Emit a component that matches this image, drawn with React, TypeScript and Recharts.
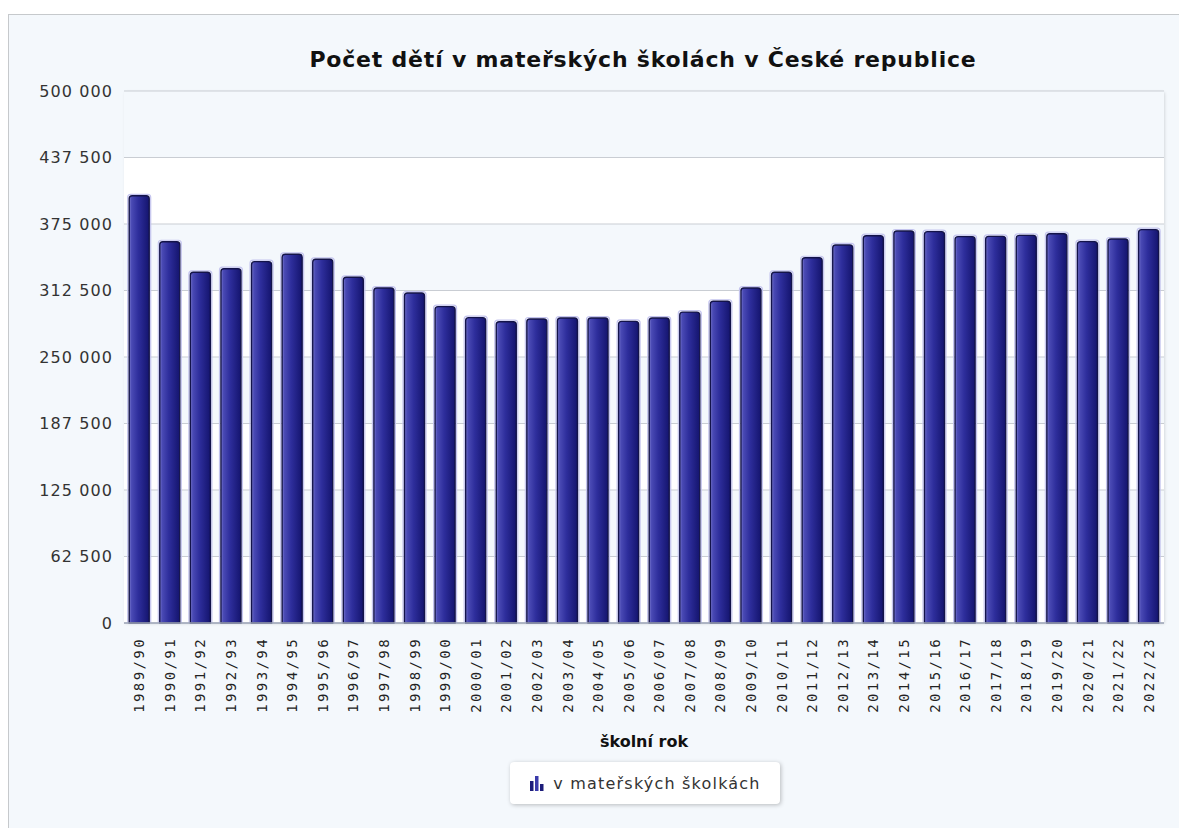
import React from "react";
import { BarChart, Bar, XAxis, YAxis, CartesianGrid } from "recharts";

const categories = [
  "1989/90", "1990/91", "1991/92", "1992/93", "1993/94", "1994/95", "1995/96",
  "1996/97", "1997/98", "1998/99", "1999/00", "2000/01", "2001/02", "2002/03",
  "2003/04", "2004/05", "2005/06", "2006/07", "2007/08", "2008/09", "2009/10",
  "2010/11", "2011/12", "2012/13", "2013/14", "2014/15", "2015/16", "2016/17",
  "2017/18", "2018/19", "2019/20", "2020/21", "2021/22", "2022/23",
];

const children = [
  401500, 358300, 329600, 333000, 339600, 346500, 341800,
  324900, 314800, 310100, 297300, 287000, 283200, 285700,
  286600, 286600, 283500, 286600, 292200, 302400, 314800,
  329600, 343300, 355300, 364000, 368400, 367800, 363100,
  363400, 364300, 365900, 358400, 360900, 369700,
];

const yTicks = [0, 62500, 125000, 187500, 250000, 312500, 375000, 437500, 500000];

const seriesName = "v mateřských školkách";
const title = "Počet dětí v mateřských školách v České republice";
const xTitle = "školní rok";

const data = categories.map((c, i) => ({ year: c, value: children[i] }));

const fmt = (v: number) =>
  String(v).replace(/\B(?=(\d{3})+(?!\d))/g, " ");

const BarShape = (props: any) => {
  const { x, y, width, height } = props;
  if (!height || height <= 0) return null;
  const r = 3;
  const path = `M${x},${y + height} L${x},${y + r} Q${x},${y} ${x + r},${y} L${x + width - r},${y} Q${x + width},${y} ${x + width},${y + r} L${x + width},${y + height} Z`;
  const o = 1.5;
  const outer = `M${x - o},${y + height} L${x - o},${y + r - o} Q${x - o},${y - o} ${x + r - o},${y - o} L${x + width - r + o},${y - o} Q${x + width + o},${y - o} ${x + width + o},${y + r - o} L${x + width + o},${y + height}`;
  return (
    <g>
      <path d={outer} fill="none" stroke="#c4c4ee" strokeWidth={1.2} />
      <path d={path} fill="url(#barGrad)" stroke="#14144a" strokeWidth={1.4} />
    </g>
  );
};

const XTick = (props: any) => {
  const { x, y, payload } = props;
  return (
    <g transform={`translate(${x},${y})`}>
      <text
        x={-6}
        y={0}
        dy={5}
        transform="rotate(-90)"
        textAnchor="end"
        fill="#222"
        fontFamily="'DejaVu Sans Mono', monospace"
        fontSize={14}
        letterSpacing={2.4}
      >
        {payload.value}
      </text>
    </g>
  );
};

export default function App() {
  return (
    <div style={{ position: "absolute", left: 0, top: 0, width: 1179, height: 828, background: "#ffffff", overflow: "hidden" }}>
      <div style={{ position: "absolute", left: 8, top: 14, width: 1200, height: 850, border: "1px solid #c6c9cc", background: "#f4f8fc" }} />
      <div
        style={{
          position: "absolute",
          left: 0,
          top: 47,
          width: 1286,
          textAlign: "center",
          fontFamily: "'DejaVu Sans', sans-serif",
          fontWeight: 700,
          fontSize: 22,
          letterSpacing: 0.8,
          color: "#111",
        }}
      >
        {title}
      </div>
      <div
        style={{
          position: "absolute",
          left: 124,
          top: 91,
          width: 1040,
          height: 532,
          background: "#ffffff",
          border: "1px solid #c3c9d1",
          borderRadius: 2,
          boxShadow: "1px 1px 3px rgba(0,0,0,0.12)",
          boxSizing: "border-box",
        }}
      />
      <div style={{ position: "absolute", left: 0, top: 0 }}>
        <BarChart
          width={1179}
          height={828}
          data={data}
          margin={{ top: 91, right: 15, bottom: 81, left: 0 }}
          barCategoryGap="17%"
        >
          <defs>
            <linearGradient id="barGrad" x1="0" y1="0" x2="1" y2="0">
              <stop offset="0%" stopColor="#7a7ad0" />
              <stop offset="12%" stopColor="#4a4ab4" />
              <stop offset="45%" stopColor="#2e2e9c" />
              <stop offset="100%" stopColor="#14146e" />
            </linearGradient>
          </defs>
          <CartesianGrid
            vertical={false}
            stroke="#c9cdd3"
            horizontalFill={["#f4f8fc", "#ffffff"]}
          />
          <XAxis
            dataKey="year"
            interval={0}
            height={124}
            tickLine={false}
            axisLine={{ stroke: "#9ea6b8", strokeWidth: 1.5 }}
            tick={<XTick />}
            label={{
              value: xTitle,
              position: "insideBottom",
              offset: 0,
              fill: "#111",
              fontFamily: "'DejaVu Sans', sans-serif",
              fontWeight: 700,
              fontSize: 16,
            }}
          />
          <YAxis
            width={124}
            domain={[0, 500000]}
            ticks={yTicks}
            interval={0}
            axisLine={false}
            tickLine={false}
            tickMargin={5}
            tickFormatter={fmt}
            tick={{ fill: "#333", fontFamily: "'DejaVu Sans', sans-serif", fontSize: 16, letterSpacing: 1.1 }}
          />
          <Bar dataKey="value" name={seriesName} shape={<BarShape />} isAnimationActive={false} />
        </BarChart>
      </div>
      <div
        style={{
          position: "absolute",
          left: 510,
          top: 762,
          width: 270,
          height: 42,
          background: "#ffffff",
          borderRadius: 4,
          boxShadow: "1px 1px 4px rgba(0,0,0,0.25)",
          display: "flex",
          alignItems: "center",
          justifyContent: "center",
          fontFamily: "'DejaVu Sans', sans-serif",
          fontSize: 16,
          letterSpacing: 1.2,
          color: "#333",
        }}
      >
        <svg width={16} height={16} style={{ marginRight: 8 }}>
          <rect x={1} y={6} width={3.5} height={10} fill="#1c1c7a" />
          <rect x={6} y={1} width={3.5} height={15} fill="#3a3aaa" />
          <rect x={11} y={9} width={3.5} height={7} fill="#1c1c7a" />
        </svg>
        {seriesName}
      </div>
    </div>
  );
}
